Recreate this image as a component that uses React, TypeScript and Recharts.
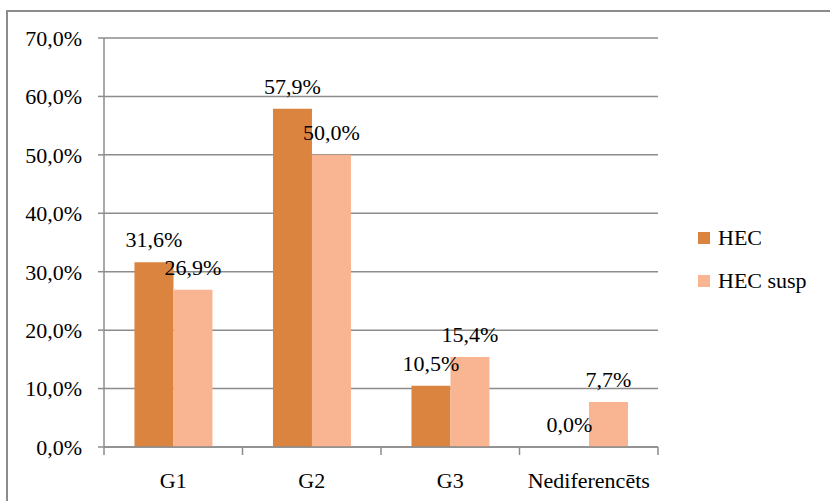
import { BarChart, Bar, XAxis, YAxis, CartesianGrid, LabelList, Legend } from 'recharts';

const categories = ['G1', 'G2', 'G3', 'Nediferencēts'];
const hecValues = [31.6, 57.9, 10.5, 0.0];
const hecSuspValues = [26.9, 50.0, 15.4, 7.7];
const yTicks = [0, 10, 20, 30, 40, 50, 60, 70];

const data = categories.map((name, i) => ({
  name,
  hec: hecValues[i],
  hecSusp: hecSuspValues[i],
}));

const W = 830;
const H = 501;
const AXIS_W = 104;
const RIGHT = 172;
const BAND = (W - AXIS_W - RIGHT) / categories.length;
const GRAY = '#8c8c8c';
const FONT = 'Liberation Serif, Tinos, DejaVu Serif, Times, serif';

const pct = (v: any) => `${Number(v).toFixed(1).replace('.', ',')}%`;
// keep zero-valued bars in the layout so their labels still show
const keepZero = (v: any) => (Number(v) === 0 ? 0.01 : 0);

// category labels with the tick marks sitting on the band edges
function CategoryTick({ x, y, payload, index }: any) {
  const last = index === categories.length - 1;
  return (
    <g>
      <line x1={x - BAND / 2} x2={x - BAND / 2} y1={y} y2={y + 8} stroke={GRAY} strokeWidth={1.5} />
      {last && <line x1={x + BAND / 2} x2={x + BAND / 2} y1={y} y2={y + 8} stroke={GRAY} strokeWidth={1.5} />}
      <text x={x} y={y + 41} textAnchor="middle" fontSize={22} fontFamily={FONT} fill="#000">
        {payload.value}
      </text>
    </g>
  );
}

function LegendBox({ payload }: any) {
  return (
    <div style={{ fontFamily: FONT, fontSize: 22, color: '#000', textAlign: 'left' }}>
      {(payload || []).map((p: any) => (
        <div key={p.value} style={{ display: 'flex', alignItems: 'center', height: 43 }}>
          <span style={{ width: 12, height: 12, background: p.color, display: 'inline-block', marginRight: 8 }} />
          <span style={{ lineHeight: '24px' }}>{p.value}</span>
        </div>
      ))}
    </div>
  );
}

export default function App() {
  return (
    <div style={{ position: 'absolute', left: 0, top: 0, width: W, height: H, overflow: 'hidden', background: '#fff' }}>
      <div style={{ position: 'absolute', left: 6, top: 10, width: W, height: H, border: `2px solid ${GRAY}` }} />
      <div style={{ position: 'absolute', left: 0, top: 0 }}>
        <BarChart
          width={W}
          height={H}
          data={data}
          margin={{ top: 38, right: RIGHT, bottom: 0, left: 0 }}
          barCategoryGap="22%"
          barGap={0}
        >
          <CartesianGrid vertical={false} stroke={GRAY} strokeWidth={1.5} />
          <XAxis
            dataKey="name"
            height={54}
            axisLine={{ stroke: GRAY, strokeWidth: 1.5 }}
            tickLine={false}
            tickSize={0}
            tickMargin={0}
            interval={0}
            tick={<CategoryTick />}
          />
          <YAxis
            width={AXIS_W}
            domain={[0, 70]}
            ticks={yTicks}
            interval={0}
            tickFormatter={pct}
            tickSize={6}
            tickMargin={16}
            axisLine={{ stroke: GRAY, strokeWidth: 1.5 }}
            tickLine={{ stroke: GRAY, strokeWidth: 1.5 }}
            tick={{ fill: '#000', fontSize: 22, fontFamily: FONT }}
          />
          <Legend
            layout="vertical"
            verticalAlign="middle"
            align="center"
            content={<LegendBox />}
            wrapperStyle={{ left: 698, top: 216, width: 130, height: 90 }}
          />
          <Bar dataKey="hec" name="HEC" fill="#DA843F" minPointSize={keepZero} isAnimationActive={false}>
            <LabelList dataKey="hec" position="top" offset={15} formatter={pct} fill="#000" fontSize={22} fontFamily={FONT} />
          </Bar>
          <Bar dataKey="hecSusp" name="HEC susp" fill="#F9B591" isAnimationActive={false}>
            <LabelList dataKey="hecSusp" position="top" offset={15} formatter={pct} fill="#000" fontSize={22} fontFamily={FONT} />
          </Bar>
        </BarChart>
      </div>
    </div>
  );
}
